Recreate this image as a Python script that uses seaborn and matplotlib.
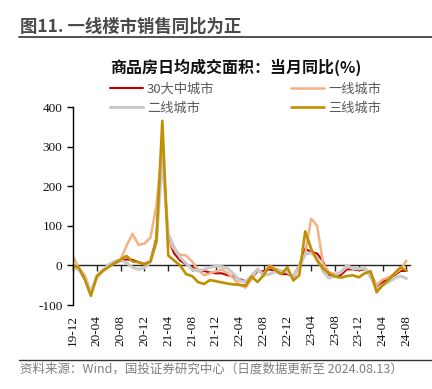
import numpy as np
import pandas as pd
import seaborn as sns
import matplotlib.pyplot as plt
from matplotlib.lines import Line2D

# monthly YoY (%) of daily-average transaction area, 2019-12 .. 2024-08
months = pd.period_range('2019-12', '2024-08', freq='M').strftime('%y-%m').tolist()

city30 = [-3, -10, -35, -70, -30, -12, -2, 5, 12, 15,
          14, 8, 4, 10, 70, 295, 65, 30, 12, 3,
          -5, -12, -14, -18, -20, -20, -25, -28, -35, -40,
          -33, -14, -15, -10, -15, -22, -22, -28, 0, 42,
          34, 30, 10, -24, -27, -24, -10, -10, -12, -10,
          -20, -52, -42, -33, -25, -14, -14]
tier1 = [23, -8, -25, -70, -32, -15, -2, 5, 15, 50,
         80, 52, 55, 70, 150, 300, 60, 40, 27, 25,
         10, -10, -25, -20, -15, -10, -20, -33, -50, -56,
         -35, -8, -22, 0, -8, -14, -18, -28, 0, 30,
         118, 100, 5, -17, -22, -17, -5, -5, -10, -6,
         -25, -50, -36, -30, -22, -10, 12]
tier2 = [-2, -12, -30, -70, -28, -12, 2, 10, 14, 6,
         -5, -10, -6, 8, 60, 270, 80, 45, 20, 5,
         -10, -14, -10, -5, -2, -3, -8, -22, -38, -42,
         -25, -10, -25, -22, -16, -15, -15, -32, -5, 28,
         32, 20, -15, -32, -26, -17, 0, -8, -8, -7,
         -30, -60, -50, -42, -32, -27, -33]
tier3 = [0, -6, -36, -77, -27, -14, -4, 6, 15, 24,
         10, 8, 2, 10, 60, 365, 25, 12, 0, -22,
         -27, -42, -47, -37, -40, -43, -46, -48, -49, -51,
         -28, -42, -25, -2, -12, -22, -5, -38, -25, 86,
         42, 12, -8, -20, -28, -31, -27, -25, -30, -20,
         -15, -68, -50, -37, -20, -5, -13]

series_names = ['30大中城市', '一线城市', '二线城市', '三线城市']
series_colors = ['#C00000', '#F4B183', '#C9C9C9', '#BF9000']
series_widths = [1.5, 1.8, 2.2, 1.9]

df = pd.DataFrame({'idx': np.arange(len(months)),
                   '30大中城市': city30, '一线城市': tier1,
                   '二线城市': tier2, '三线城市': tier3})
long = df.melt(id_vars='idx', var_name='series', value_name='yoy')

sns.set_style('white')
plt.rcParams['font.family'] = ['Noto Sans CJK SC', 'DejaVu Sans']
plt.rcParams['axes.unicode_minus'] = False

W, H = 432, 389
fig = plt.figure(figsize=(W / 100, H / 100), dpi=100)
ax = fig.add_axes([73 / W, 1 - 305 / H, (410 - 73) / W, (305 - 107) / H])

for name, color, lw in zip(series_names, series_colors, series_widths):
    sns.lineplot(data=long[long.series == name], x='idx', y='yoy',
                 color=color, linewidth=lw, ax=ax, legend=False)

ymin, ymax = -100, 400
ax.set_ylim(ymin, ymax)
ax.set_xlim(0, 56.6)
ax.set_yticks(range(-100, 401, 100))
ax.set_xlabel('')
ax.set_ylabel('')

tick_pos = list(range(0, len(months), 4))
ax.set_xticks(tick_pos, [months[i] for i in tick_pos], rotation=90)
ax.tick_params(axis='x', length=0, pad=7, labelsize=9.5,
               labelfontfamily='Liberation Serif', labelcolor='#111111')
ax.tick_params(axis='y', direction='out', length=4, width=1, color='black',
               labelsize=9.5, labelfontfamily='Liberation Serif',
               labelcolor='#111111', left=True)
for side in ['top', 'right', 'bottom']:
    ax.spines[side].set_visible(False)
ax.spines['left'].set_color('black')
ax.spines['left'].set_linewidth(1)

# zero line with its own tick marks
zero_axis = ax.secondary_xaxis((0 - ymin) / (ymax - ymin))
zero_axis.set_xticks(tick_pos)
zero_axis.tick_params(axis='x', direction='out', length=4, width=1,
                      color='#222222', labelbottom=False, labeltop=False)
for sp in zero_axis.spines.values():
    sp.set_color('#222222')
    sp.set_linewidth(1)

# legend: column-wise order
handles = ax.lines[:4]
order = [0, 2, 1, 3]
fig.legend([handles[i] for i in order], [series_names[i] for i in order],
           ncol=2, loc='upper left', bbox_to_anchor=(110 / W, 1 - 83 / H),
           frameon=False, fontsize=9.5, handlelength=2.5, handletextpad=0.3,
           columnspacing=5.8, labelspacing=0.45, borderpad=0, borderaxespad=0,
           labelcolor='#595959')

fig.text(20 / W, 1 - 27 / H, '图11. 一线楼市销售同比为正', fontsize=12.5,
         fontweight='bold', color='#4a4a4a', va='center')
fig.add_artist(Line2D([19 / W, 1], [1 - 37 / H] * 2, transform=fig.transFigure,
                      color='#333333', linewidth=1.2))
fig.text(236 / W, 1 - 67 / H, '商品房日均成交面积：当月同比(%)', fontsize=11.5,
         fontweight='bold', color='#111111', ha='center', va='center')

fig.add_artist(Line2D([19 / W, 1], [1 - 360 / H] * 2, transform=fig.transFigure,
                      color='#333333', linewidth=1))
fig.text(20 / W, 1 - 369 / H, '资料来源：Wind，国投证券研究中心（日度数据更新至 2024.08.13）',
         fontsize=9, color='#7f7f7f', style='italic', va='center')

fig.savefig('out.png', dpi=100)
